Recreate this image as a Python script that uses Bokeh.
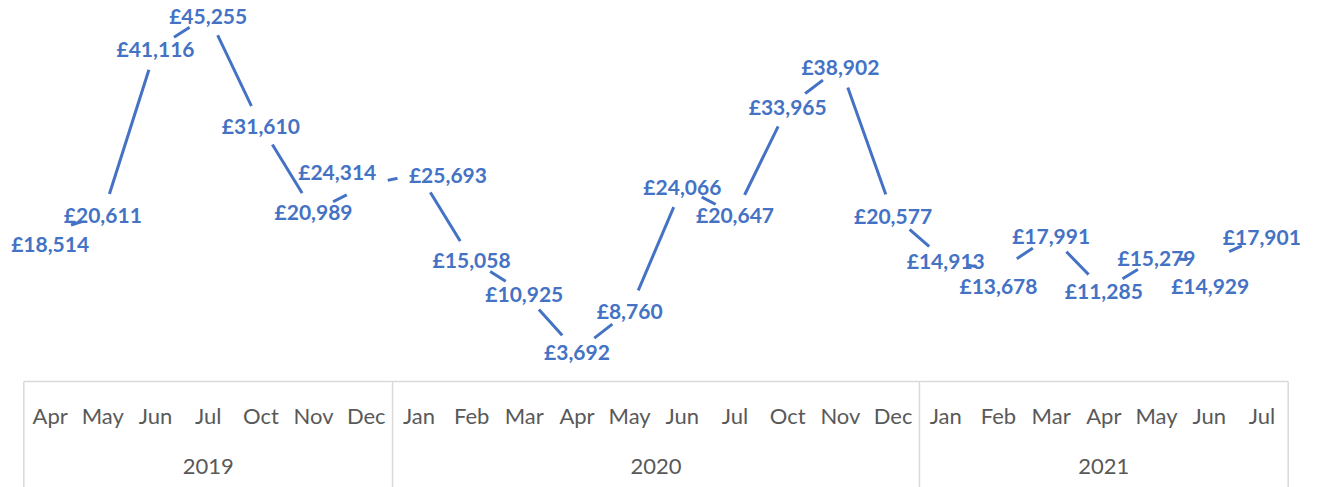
from bokeh.plotting import figure
from bokeh.models import FactorRange, Range1d, ColumnDataSource
from bokeh.embed import file_html
from bokeh.resources import INLINE
from bokeh.core.properties import value

# ---- data ----
years = ["2019"] * 7 + ["2020"] * 10 + ["2021"] * 7
months = ["Apr", "May", "Jun", "Jul", "Oct", "Nov", "Dec",
          "Jan", "Feb", "Mar", "Apr", "May", "Jun", "Jul", "Oct", "Nov", "Dec",
          "Jan", "Feb", "Mar", "Apr", "May", "Jun", "Jul"]
values = [18514, 20611, 41116, 45255, 31610, 20989, 24314,
          25693, 15058, 10925, 3692, 8760, 24066, 20647, 33965, 38902, 20577,
          14913, 13678, 17991, 11285, 15279, 14929, 17901]
labels = ["£{:,}".format(v) for v in values]

# label nudges in screen pixels (manual label placement in the original)
label_dx = [0, 0, 0, 0, 0, 0, -29,
            29, 0, 0, 0, 0, 0, 0, 0, 0, 0,
            0, 0, 0, 0, 0, 1, 0]
label_dy = [12, 0, 0, 0, 0, 0, -13,
            1, 0, 0, 0, 0, 0, 0, 0, 0, 0,
            0, 15, 0, 0, 0, 25, 0]

BLUE = "#4472C4"
GREY_TXT = "#595959"
GREY_LINE = "#D9D9D9"
FONT = "Lato"

W, H = 1317, 487
PAD_PX = 23.3          # frame edge to first/last category edge
CAT_PX = 52.7          # width of one category
ZERO_PX = 381          # canvas y of value 0 (category axis top line)
UNITS_PER_PX = 1 / 0.008088

factors = list(zip(years, months))
uniq_years = []
for y in years:
    if y not in uniq_years:
        uniq_years.append(y)

y_top = ZERO_PX * UNITS_PER_PX
y_bot = -(H - ZERO_PX) * UNITS_PER_PX

src = ColumnDataSource(dict(x=factors, y=values, label=labels,
                            dx=label_dx, dy=label_dy))

frame_w = 2 * PAD_PX + 24 * CAT_PX
p = figure(x_range=FactorRange(*factors, factor_padding=0, group_padding=0,
                               subgroup_padding=0,
                               range_padding=PAD_PX / CAT_PX,
                               range_padding_units="absolute"),
           y_range=Range1d(y_bot, y_top),
           width=W, height=H,
           output_backend="svg", toolbar_location=None,
           min_border_left=0, min_border_right=int(round(W - frame_w)),
           min_border_top=0, min_border_bottom=0,
           x_axis_location=None, y_axis_location=None, outline_line_color=None,
           background_fill_color="white", border_fill_color="white")

p.xgrid.visible = False
p.ygrid.visible = False

# category axis frame: top line and group boundaries
bounds = [0]
for yr in uniq_years:
    bounds.append(bounds[-1] + years.count(yr))
p.segment(x0=[bounds[0]], y0=[0], x1=[bounds[-1]], y1=[0],
          line_color=GREY_LINE, line_width=1.5)
p.segment(x0=bounds, y0=[0] * len(bounds), x1=bounds, y1=[y_bot] * len(bounds),
          line_color=GREY_LINE, line_width=1.5)

# month and year labels of the category axis
p.text(x=factors, y=[-34 * UNITS_PER_PX] * len(factors), text=months,
       text_align="center", text_baseline="middle",
       text_font=value(FONT), text_font_size="22px", text_color=GREY_TXT)
p.text(x=uniq_years, y=[-85 * UNITS_PER_PX] * len(uniq_years), text=uniq_years,
       text_align="center", text_baseline="middle",
       text_font=value(FONT), text_font_size="22px", text_color=GREY_TXT)

# series
p.line("x", "y", source=src, line_color=BLUE, line_width=3)
p.scatter("x", "y", source=src, size=44, fill_color="white", line_color=None)
p.text("x", "y", text="label", source=src, x_offset="dx", y_offset="dy",
       text_align="center", text_baseline="middle",
       text_font=value(FONT), text_font_size="21px", text_font_style="bold",
       text_color=BLUE)

open("out.html", "w").write(file_html(p, INLINE))
